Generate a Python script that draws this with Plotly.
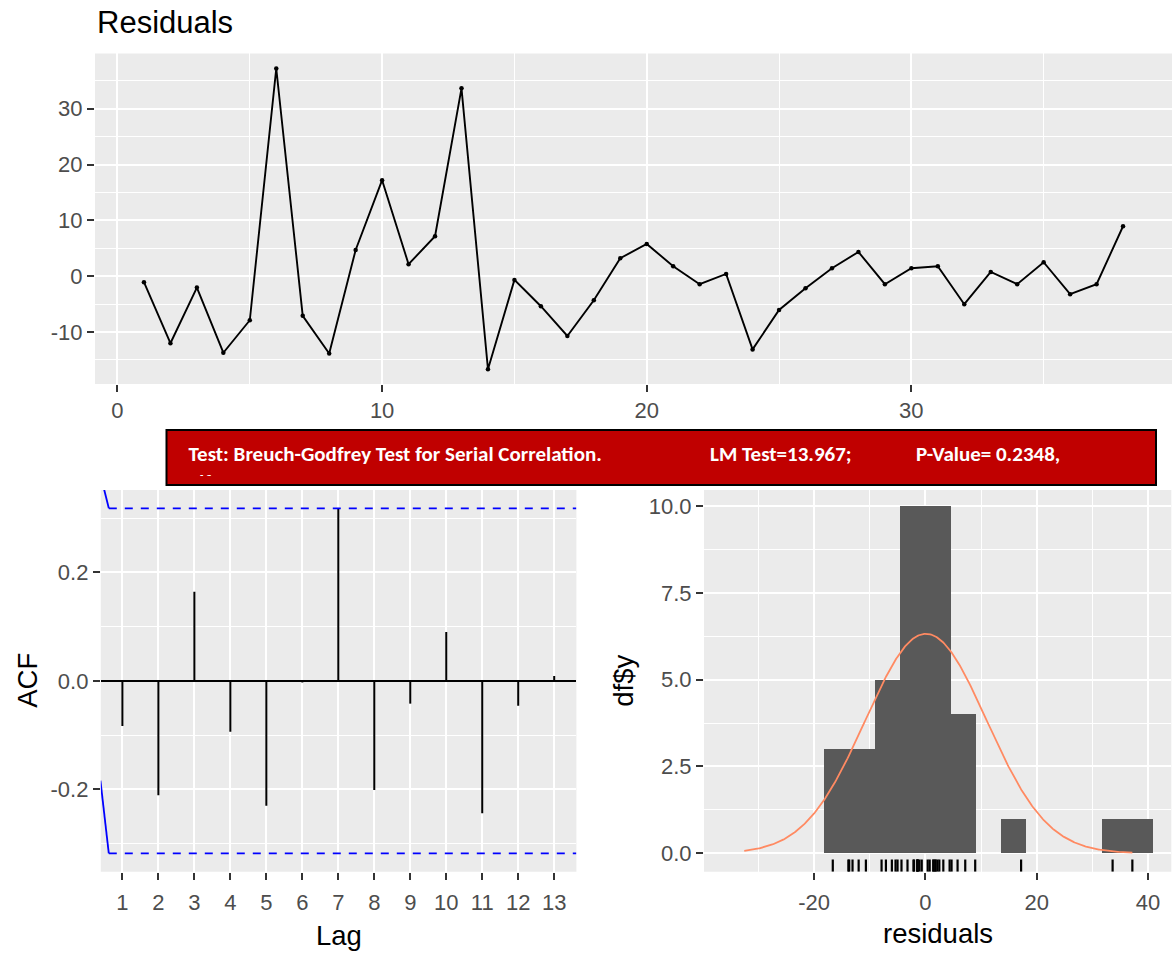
import numpy as np
import plotly.graph_objects as go

W, H = 1176, 956


def fx(p):
    return p / W


def fy(p):
    return 1 - p / H


# ---------------- data ----------------
time_index = list(range(1, 39))
residuals = [-1.07, -12.0, -2.04, -13.7, -7.88, 37.2, -7.1, -13.85, 4.7, 17.2,
             2.15, 7.16, 33.65, -16.65, -0.66, -5.37, -10.7, -4.3, 3.22, 5.78,
             1.79, -1.43, 0.41, -13.1, -6.03, -2.15, 1.43, 4.35, -1.43, 1.43,
             1.79, -5.01, 0.77, -1.43, 2.5, -3.22, -1.43, 8.95]

acf_lags = list(range(1, 14))
acf_values = [-0.083, -0.211, 0.164, -0.094, -0.230, -0.003, 0.317, -0.201,
              -0.042, 0.090, -0.244, -0.046, 0.009]

# left end of the confidence-limit lines (solid slanted part)
ci_edge_lags = [0.39, 0.622]
ci_edge_upper = [0.38, 0.318]
ci_edge_lower = [-0.184, -0.318]

hist_binwidth = 4.54
hist_start = -4 * hist_binwidth
hist_end = 9 * hist_binwidth

top_xticks = [0, 10, 20, 30]
top_yticks = [-10, 0, 10, 20, 30]
acf_yticks = [-0.2, 0.0, 0.2]
acf_yticktext = ["-0.2", "0.0", "0.2"]
hist_xticks = [-20, 0, 20, 40]
hist_xticktext = ["-20", "0", "20", "40"]
hist_yticks = [0, 2.5, 5, 7.5, 10]
hist_yticktext = ["0.0", "2.5", "5.0", "7.5", "10.0"]

banner_line1 = ["Test: Breuch-Godfrey Test for Serial Correlation.",
                "LM Test=13.967;", "P-Value= 0.2348,"]
banner_line2 = ["df= 11"]

# ---------------- derived ----------------
n = len(residuals)
res = np.array(residuals)
ci = 1.96 / np.sqrt(n)
mu, sd = res.mean(), res.std(ddof=1)
xx = np.linspace(min(mu - 3 * sd, res.min()), max(mu + 3 * sd, res.max()), 512)
yy = np.exp(-0.5 * ((xx - mu) / sd) ** 2) / (sd * np.sqrt(2 * np.pi)) * n * hist_binwidth

acf_x, acf_y = [], []
for l, v in zip(acf_lags, acf_values):
    acf_x += [l, l, None]
    acf_y += [0, v, None]

hist_yrange = [-0.53, 10.46]
rug_top = hist_yrange[0] + 0.032 * (hist_yrange[1] - hist_yrange[0])
rug_x, rug_y = [], []
for r in residuals:
    rug_x += [r, r, None]
    rug_y += [hist_yrange[0], rug_top, None]

acf_xrange = [0.4, 13.617]

fig = go.Figure()

# top residual series
fig.add_trace(go.Scatter(x=time_index, y=residuals, mode="lines+markers",
                         line=dict(color="black", width=1.9),
                         marker=dict(size=4.5, color="black"),
                         xaxis="x", yaxis="y", showlegend=False))

# ACF
fig.add_trace(go.Scatter(x=acf_x, y=acf_y, mode="lines",
                         line=dict(color="black", width=2),
                         xaxis="x2", yaxis="y2", showlegend=False))
for sgn, edge in ((1, ci_edge_upper), (-1, ci_edge_lower)):
    fig.add_trace(go.Scatter(x=[ci_edge_lags[-1], acf_xrange[1]], y=[sgn * ci, sgn * ci],
                             mode="lines", line=dict(color="blue", width=1.8, dash="8px,8px"),
                             xaxis="x2", yaxis="y2", showlegend=False))
    fig.add_trace(go.Scatter(x=ci_edge_lags, y=edge, mode="lines",
                             line=dict(color="blue", width=1.8),
                             xaxis="x2", yaxis="y2", showlegend=False))

# histogram
fig.add_trace(go.Histogram(x=residuals,
                           xbins=dict(start=hist_start, end=hist_end, size=hist_binwidth),
                           marker=dict(color="#595959", line=dict(width=0)),
                           xaxis="x3", yaxis="y3", showlegend=False))
fig.add_trace(go.Scatter(x=xx, y=yy, mode="lines", line=dict(color="#ff8a62", width=1.8),
                         xaxis="x3", yaxis="y3", showlegend=False))
fig.add_trace(go.Scatter(x=rug_x, y=rug_y, mode="lines", line=dict(color="black", width=2.2),
                         xaxis="x3", yaxis="y3", showlegend=False))

# banner text (clipped to the banner text box)
banner_font = dict(family="Carlito, Liberation Sans Narrow, Lato, sans-serif",
                   size=21, color="white", weight="bold")
fig.add_trace(go.Scatter(x=[188.5, 710, 916], y=[455.5, 455.5, 455.5], mode="text",
                         text=banner_line1, textposition="middle right", textfont=banner_font,
                         cliponaxis=True, xaxis="x4", yaxis="y4", showlegend=False))
fig.add_trace(go.Scatter(x=[193], y=[483.5], mode="text",
                         text=banner_line2, textposition="middle right", textfont=banner_font,
                         cliponaxis=True, xaxis="x4", yaxis="y4", showlegend=False))

tickfont = dict(size=22, color="#4D4D4D", family="Liberation Sans, Arial, sans-serif")
common = dict(showline=False, ticks="outside", ticklen=7, tickwidth=1.6, tickcolor="#333333",
              tickfont=tickfont, showgrid=True, gridcolor="white", gridwidth=2.1,
              zeroline=False, fixedrange=True)


def minor(d):
    return dict(showgrid=True, gridcolor="white", gridwidth=1.4, dtick=d, tick0=0, ticks="")


fig.update_layout(
    width=W, height=H,
    margin=dict(l=0, r=0, t=0, b=0),
    paper_bgcolor="white",
    plot_bgcolor="rgba(0,0,0,0)",
    font=dict(family="Liberation Sans, Arial, sans-serif", color="black"),
    showlegend=False,
    bargap=0,
    xaxis=dict(domain=[fx(95), fx(1172)], range=[-0.85, 39.85], anchor="y",
               tickmode="array", tickvals=top_xticks, minor=minor(5), **common),
    yaxis=dict(domain=[fy(384), fy(53.4)], range=[-19.3, 39.9], anchor="x",
               tickmode="array", tickvals=top_yticks,
               ticktext=[str(v) for v in top_yticks], minor=minor(5), **common),
    xaxis2=dict(domain=[fx(100.8), fx(576.4)], range=acf_xrange, anchor="y2",
                tickmode="array", tickvals=acf_lags, ticklabelstandoff=4, **common),
    yaxis2=dict(domain=[fy(871.7), fy(490)], range=[-0.3517, 0.3517], anchor="x2",
                tickmode="array", tickvals=acf_yticks, ticktext=acf_yticktext,
                minor=minor(0.1), **{k: v for k, v in common.items() if k != "zeroline"},
                zeroline=True, zerolinecolor="black", zerolinewidth=1.8),
    xaxis3=dict(domain=[fx(704), fx(1171.3)], range=[-39.8, 44.2], anchor="y3",
                tickmode="array", tickvals=hist_xticks, ticktext=hist_xticktext,
                minor=minor(10), ticklabelstandoff=4, **common),
    yaxis3=dict(domain=[fy(871.7), fy(490)], range=hist_yrange, anchor="x3",
                tickmode="array", tickvals=hist_yticks, ticktext=hist_yticktext,
                minor=minor(1.25), **common),
    xaxis4=dict(domain=[fx(168), fx(1154)], range=[168, 1154], anchor="y4", visible=False,
                fixedrange=True),
    yaxis4=dict(domain=[fy(476), fy(432)], range=[476, 432], anchor="x4", visible=False,
                fixedrange=True),
)

shapes = [
    dict(type="rect", xref="paper", yref="paper", x0=fx(166.5), x1=fx(1156),
         y0=fy(485), y1=fy(430), fillcolor="#C00000", line=dict(color="black", width=2),
         layer="below"),
]
for xr, yr in (("x", "y"), ("x2", "y2"), ("x3", "y3")):
    shapes.append(dict(type="rect", xref=f"{xr} domain", yref=f"{yr} domain", x0=0, x1=1,
                       y0=0, y1=1, fillcolor="#EBEBEB", line=dict(width=0), layer="below"))
fig.update_layout(shapes=shapes)

ann_font = dict(size=27.5, color="black", family="Liberation Sans, Arial, sans-serif")
fig.update_layout(annotations=[
    dict(text="Residuals", x=fx(95), y=fy(23), xref="paper", yref="paper", xanchor="left",
         yanchor="middle", showarrow=False,
         font=dict(size=31, color="black", family="Liberation Sans, Arial, sans-serif")),
    dict(text="ACF", x=fx(28), y=fy(680.8), xref="paper", yref="paper", textangle=-90,
         xanchor="center", yanchor="middle", showarrow=False, font=ann_font),
    dict(text="Lag", x=fx(338.6), y=fy(935), xref="paper", yref="paper",
         xanchor="center", yanchor="middle", showarrow=False, font=ann_font),
    dict(text="df$y", x=fx(624), y=fy(680.8), xref="paper", yref="paper", textangle=-90,
         xanchor="center", yanchor="middle", showarrow=False, font=ann_font),
    dict(text="residuals", x=fx(937.6), y=fy(933), xref="paper", yref="paper",
         xanchor="center", yanchor="middle", showarrow=False, font=ann_font),
])

fig.write_html("out.html", config={"displayModeBar": False},
               post_script="document.body.style.margin='0px';")
